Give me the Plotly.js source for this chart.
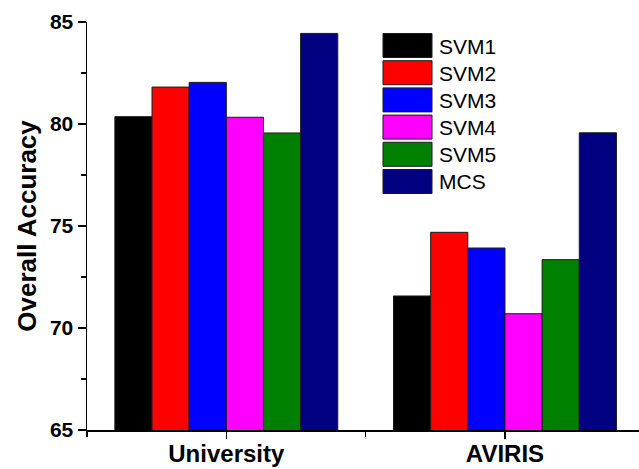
<!DOCTYPE html>
<html>
<head>
<meta charset="utf-8">
<script src="https://cdn.plot.ly/plotly-3.0.1.min.js"></script>
<style>html,body{margin:0;padding:0;background:#fff;}#chart{width:639px;height:469px;}</style>
</head>
<body>
<div id="chart"></div>
<script>
const categories = ["University", "AVIRIS"];
const seriesNames = ["SVM1", "SVM2", "SVM3", "SVM4", "SVM5", "MCS"];
const seriesColors = ["#000000", "#FF0000", "#0000FF", "#FF00FF", "#008000", "#000080"];
const svm1 = [80.36, 71.57];
const svm2 = [81.81, 74.69];
const svm3 = [82.04, 73.92];
const svm4 = [80.33, 70.70];
const svm5 = [79.56, 73.35];
const mcs  = [84.44, 79.57];
const seriesValues = [svm1, svm2, svm3, svm4, svm5, mcs];
const yTickVals = [65, 70, 75, 80, 85];

const catIndex = categories.map((c, i) => i);

const traces = seriesNames.map((name, k) => ({
  type: 'bar',
  name: name,
  x: catIndex,
  y: seriesValues[k],
  marker: {color: seriesColors[k], line: {color: '#1a1a1a', width: 1}},
  showlegend: false,
  hoverinfo: 'skip'
}));

const W = 639, H = 469, ML = 87, MR = 0, MT = 22, MB = 39;
const PW = W - ML - MR, PH = H - MT - MB;
const px2x = p => (p - ML) / PW;
const px2y = p => 1 - (p - MT) / PH;

const FAM = 'Liberation Sans, Arial, sans-serif';
const shapes = [];
const annotations = [];
seriesNames.forEach((name, k) => {
  const top = 33.5 + k * 27.2;
  shapes.push({
    type: 'rect', xref: 'paper', yref: 'paper',
    x0: px2x(383), x1: px2x(432), y0: px2y(top), y1: px2y(top + 24),
    fillcolor: seriesColors[k], line: {color: '#1a1a1a', width: 1}
  });
  annotations.push({
    xref: 'paper', yref: 'paper', x: px2x(437), y: px2y(top + 12.5),
    xanchor: 'left', yanchor: 'middle', showarrow: false,
    text: name, font: {family: FAM, size: 21, color: '#000'}
  });
});

const layout = {
  width: W, height: H,
  margin: {l: ML, r: MR, t: MT, b: MB, pad: 0},
  paper_bgcolor: '#fff', plot_bgcolor: '#fff',
  barmode: 'group', bargap: 0.2, bargroupgap: 0,
  showlegend: false,
  font: {family: FAM, color: '#000'},
  xaxis: {
    type: 'linear', range: [-0.5, 1.481],
    tickmode: 'array', tickvals: catIndex, ticktext: categories.map(c => '<b>' + c + '</b>'),
    ticks: 'outside', ticklen: 7, tickwidth: 1.5, tickcolor: '#000',
    ticklabelstandoff: -5,
    minor: {tickmode: 'array', tickvals: [-0.5, 0.5], ticks: 'outside', ticklen: 5, tickwidth: 1.5, tickcolor: '#000'},
    showline: true, linecolor: '#000', linewidth: 1.5,
    showgrid: false, zeroline: false,
    tickfont: {family: FAM, size: 24, color: '#000'}
  },
  yaxis: {
    range: [65, 85],
    tickmode: 'array', tickvals: yTickVals, ticktext: yTickVals.map(v => '<b>' + v + '</b>'),
    ticks: 'outside', ticklen: 8, tickwidth: 1.5, tickcolor: '#000',
    minor: {dtick: 2.5, tick0: 65, ticks: 'outside', ticklen: 5, tickwidth: 1.5, tickcolor: '#000'},
    showline: true, linecolor: '#000', linewidth: 1.5,
    showgrid: false, zeroline: false,
    tickfont: {family: FAM, size: 21, color: '#000'},
    title: {text: '<b>Overall Accuracy</b>', standoff: 6,
      font: {family: FAM, size: 26, color: '#000'}}
  },
  shapes: shapes,
  annotations: annotations
};

Plotly.newPlot('chart', traces, layout, {staticPlot: true, displayModeBar: false});
</script>
</body>
</html>
